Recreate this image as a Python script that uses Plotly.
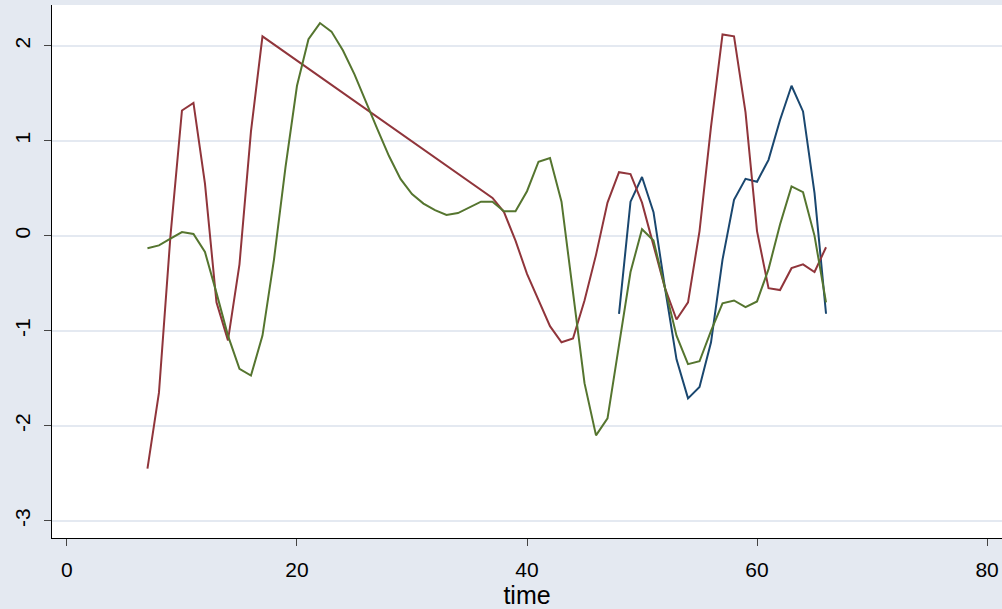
import plotly.graph_objects as go

red_t = [7, 8, 9, 10, 11, 12, 13, 14, 15, 16, 17, 37, 38, 39, 40, 41, 42, 43, 44, 45, 46,
         47, 48, 49, 50, 51, 52, 53, 54, 55, 56, 57, 58, 59, 60, 61, 62, 63, 64, 65, 66]
red_v = [-2.45, -1.65, 0.0, 1.32, 1.4, 0.55, -0.7, -1.1, -0.3, 1.1, 2.1, 0.4, 0.25, -0.05,
         -0.4, -0.68, -0.95, -1.12, -1.08, -0.68, -0.2, 0.35, 0.67, 0.65, 0.35, -0.1, -0.55,
         -0.88, -0.7, 0.05, 1.15, 2.12, 2.1, 1.3, 0.05, -0.55, -0.57, -0.34, -0.3, -0.38, -0.12]

green_t = list(range(7, 67))
green_v = [-0.13, -0.1, -0.03, 0.04, 0.02, -0.17, -0.6, -1.05, -1.4, -1.47, -1.05, -0.25,
           0.72, 1.58, 2.07, 2.24, 2.15, 1.95, 1.7, 1.4, 1.12, 0.84, 0.6, 0.44, 0.34, 0.27,
           0.22, 0.24, 0.3, 0.36, 0.36, 0.26, 0.26, 0.47, 0.78, 0.82, 0.36, -0.6, -1.55, -2.1,
           -1.92, -1.15, -0.38, 0.07, -0.05, -0.55, -1.05, -1.35, -1.32, -1.0, -0.71, -0.68,
           -0.75, -0.69, -0.35, 0.12, 0.52, 0.46, 0.0, -0.7]

blue_t = list(range(48, 67))
blue_v = [-0.82, 0.36, 0.62, 0.25, -0.55, -1.3, -1.71, -1.59, -1.12, -0.25, 0.38, 0.6,
          0.57, 0.8, 1.22, 1.58, 1.31, 0.45, -0.82]

y_ticks = [-3, -2, -1, 0, 1, 2]
y_labels = [str(v) for v in y_ticks]

fig = go.Figure()
fig.add_trace(go.Scatter(x=blue_t, y=blue_v, mode="lines", line=dict(color="#1a476f", width=2)))
fig.add_trace(go.Scatter(x=red_t, y=red_v, mode="lines", line=dict(color="#90353b", width=2)))
fig.add_trace(go.Scatter(x=green_t, y=green_v, mode="lines", line=dict(color="#55752f", width=2)))

fig.update_layout(
    width=1002, height=609,
    margin=dict(l=52, r=0, t=5, b=71),
    paper_bgcolor="#e4e9f1", plot_bgcolor="white",
    showlegend=False,
    font=dict(family="Liberation Sans, Arial", size=21, color="black"),
    xaxis=dict(range=[-1.3, 81.3], tickvals=[0, 20, 40, 60, 80], showgrid=False,
               zeroline=False, showline=True, linecolor="black", ticks="outside",
               ticklen=7, ticklabelstandoff=6, automargin=False,
               title=dict(text="time", standoff=0)),
    yaxis=dict(range=[-3.18, 2.43], tickvals=y_ticks, ticktext=y_labels, tickangle=-90,
               showgrid=True, gridcolor="#e4e9f1", gridwidth=1.5, zeroline=False,
               showline=True, linecolor="black", ticks="outside", ticklen=7,
               ticklabelstandoff=6, automargin=False),
)

# drop the page's default body margin so the figure fills the window
fig.write_html("out.html", config={"displayModeBar": False},
               post_script="document.body.style.margin='0';")
